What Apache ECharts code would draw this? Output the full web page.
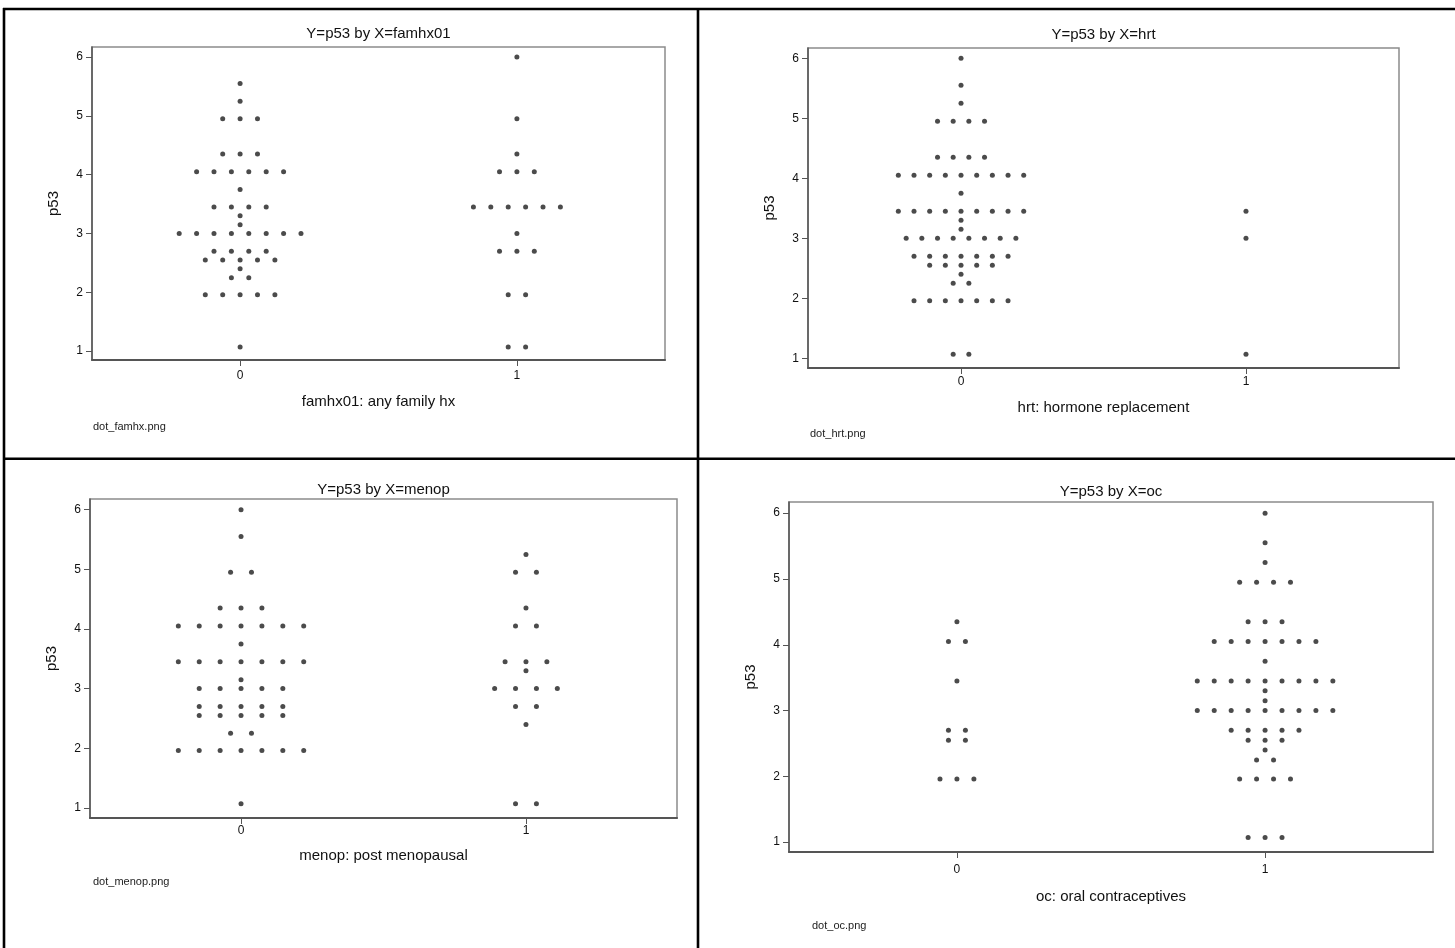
<!DOCTYPE html>
<html>
<head>
<meta charset="utf-8">
<script src="https://cdn.jsdelivr.net/npm/echarts@6/dist/echarts.min.js"></script>
<style>
html,body{margin:0;padding:0;background:#fff;}
#c{width:1455px;height:948px;}
</style>
</head>
<body>
<div id="c"></div>
<script>
// ---------------- DATA ----------------
// p53 value levels (y) used by the dot plots
const p53Levels = [1.07, 1.96, 2.25, 2.40, 2.55, 2.70, 3.00, 3.15, 3.30, 3.45, 3.75, 4.05, 4.35, 4.95, 5.25, 5.55, 6.00];

// number of observations at each p53 level, by group (0 / 1)
const famhxCount0 = [1, 5, 2, 1, 5, 4, 8, 1, 1, 4, 1, 6, 3, 3, 1, 1, 0];
const famhxCount1 = [2, 2, 0, 0, 0, 3, 1, 0, 0, 6, 0, 3, 1, 1, 0, 0, 1];
const hrtCount0   = [2, 7, 2, 1, 5, 7, 8, 1, 1, 9, 1, 9, 4, 4, 1, 1, 1];
const hrtCount1   = [1, 0, 0, 0, 0, 0, 1, 0, 0, 1, 0, 0, 0, 0, 0, 0, 0];
const menopCount0 = [1, 7, 2, 0, 5, 5, 5, 1, 0, 7, 1, 7, 3, 2, 0, 1, 1];
const menopCount1 = [2, 0, 0, 1, 0, 2, 4, 0, 1, 3, 0, 2, 1, 2, 1, 0, 0];
const ocCount0    = [0, 3, 0, 0, 2, 2, 0, 0, 0, 1, 0, 2, 1, 0, 0, 0, 0];
const ocCount1    = [3, 4, 2, 1, 3, 5, 9, 1, 1, 9, 1, 7, 3, 4, 1, 1, 1];

const xTickValues = [0, 1];
const yTickValues = [1, 2, 3, 4, 5, 6];

const panelTitles = ['Y=p53 by X=famhx01', 'Y=p53 by X=hrt', 'Y=p53 by X=menop', 'Y=p53 by X=oc'];
const xAxisNames  = ['famhx01: any family hx', 'hrt: hormone replacement', 'menop: post menopausal', 'oc: oral contraceptives'];
const yAxisName   = 'p53';
const fileNames   = ['dot_famhx.png', 'dot_hrt.png', 'dot_menop.png', 'dot_oc.png'];

// ---------------- LAYOUT ----------------
const FONT = "'Liberation Sans', Arial, Helvetica, sans-serif";
const panels = [
  { counts: [famhxCount0, famhxCount1], grid: {left: 92,  top: 47,  width: 573, height: 313}, xr: [-0.535, 1.535], yr: [0.85, 6.17], titleY: 34,  labelMargin: 10, nameGap: 34, fileX: 93,  fileY: 427 },
  { counts: [hrtCount0,   hrtCount1],   grid: {left: 808, top: 48,  width: 591, height: 320}, xr: [-0.537, 1.537], yr: [0.84, 6.17], titleY: 35,  labelMargin: 8,  nameGap: 32, fileX: 810, fileY: 434 },
  { counts: [menopCount0, menopCount1], grid: {left: 90,  top: 499, width: 587, height: 319}, xr: [-0.53, 1.53],   yr: [0.83, 6.18], titleY: 490, labelMargin: 7,  nameGap: 30, fileX: 93,  fileY: 882 },
  { counts: [ocCount0,    ocCount1],    grid: {left: 789, top: 502, width: 644, height: 350}, xr: [-0.545, 1.545], yr: [0.85, 6.17], titleY: 492, labelMargin: 12, nameGap: 37, fileX: 812, fileY: 926 }
];
const ROW_WIDTH = 0.44; // total horizontal spread (x units) of the widest row

function dotData(counts, group, spacing) {
  const out = [];
  p53Levels.forEach((y, i) => {
    const n = counts[i];
    for (let k = 0; k < n; k++) {
      out.push([group + (k - (n - 1) / 2) * spacing, y]);
    }
  });
  return out;
}

const grids = [], xAxes = [], yAxes = [], series = [], graphics = [];

panels.forEach((p, idx) => {
  grids.push(Object.assign({ show: true, borderColor: '#8c8c8c', borderWidth: 1.5, backgroundColor: '#fff' }, p.grid));
  xAxes.push({
    type: 'value', gridIndex: idx, min: p.xr[0], max: p.xr[1],
    name: xAxisNames[idx], nameLocation: 'middle', nameGap: p.nameGap,
    nameTextStyle: { fontFamily: FONT, fontSize: 15, color: '#111' },
    axisLine: { show: true, onZero: false, lineStyle: { color: '#555', width: 2 } },
    axisTick: { show: true, inside: false, length: 6, lineStyle: { color: '#555' }, customValues: xTickValues },
    axisLabel: { show: true, margin: p.labelMargin, fontFamily: FONT, fontSize: 12, color: '#111', customValues: xTickValues, formatter: v => String(v) },
    splitLine: { show: false }
  });
  yAxes.push({
    type: 'value', gridIndex: idx, min: p.yr[0], max: p.yr[1],
    name: yAxisName, nameLocation: 'middle', nameGap: 31, nameRotate: 90,
    nameTextStyle: { fontFamily: FONT, fontSize: 15, color: '#111' },
    axisLine: { show: true, onZero: false, lineStyle: { color: '#555', width: 1.5 } },
    axisTick: { show: true, inside: false, length: 6, lineStyle: { color: '#555' }, customValues: yTickValues },
    axisLabel: { show: true, margin: 9, fontFamily: FONT, fontSize: 12, color: '#111', customValues: yTickValues, formatter: v => String(v) },
    splitLine: { show: false }
  });
  const maxCount = Math.max(...p.counts[0], ...p.counts[1]);
  const spacing = ROW_WIDTH / (maxCount - 1);
  p.counts.forEach((c, g) => {
    series.push({
      type: 'scatter', xAxisIndex: idx, yAxisIndex: idx,
      data: dotData(c, xTickValues[g], spacing),
      symbol: 'circle', symbolSize: 5,
      itemStyle: { color: '#1e1e1e' },
      silent: true
    });
  });
  const cx = p.grid.left + p.grid.width / 2;
  graphics.push({ type: 'text', x: cx, y: p.titleY, style: { text: panelTitles[idx], font: '15px ' + FONT, fill: '#111', textAlign: 'center', textVerticalAlign: 'middle' } });
  graphics.push({ type: 'text', x: p.fileX, y: p.fileY, style: { text: fileNames[idx], font: '11px ' + FONT, fill: '#222', textAlign: 'left', textVerticalAlign: 'middle' } });
});

// table borders
const B = { stroke: '#000', lineWidth: 2.6 };
graphics.push({ type: 'line', shape: { x1: 3, y1: 9, x2: 1455, y2: 9 }, style: B });
graphics.push({ type: 'line', shape: { x1: 4, y1: 8, x2: 4, y2: 948 }, style: B });
graphics.push({ type: 'line', shape: { x1: 698, y1: 8, x2: 698, y2: 948 }, style: B });
graphics.push({ type: 'line', shape: { x1: 3, y1: 458.7, x2: 1455, y2: 458.7 }, style: B });

const chart = echarts.init(document.getElementById('c'), null, { renderer: 'canvas' });
chart.setOption({
  animation: false,
  backgroundColor: '#fff',
  grid: grids,
  xAxis: xAxes,
  yAxis: yAxes,
  series: series,
  graphic: graphics
});
</script>
</body>
</html>
